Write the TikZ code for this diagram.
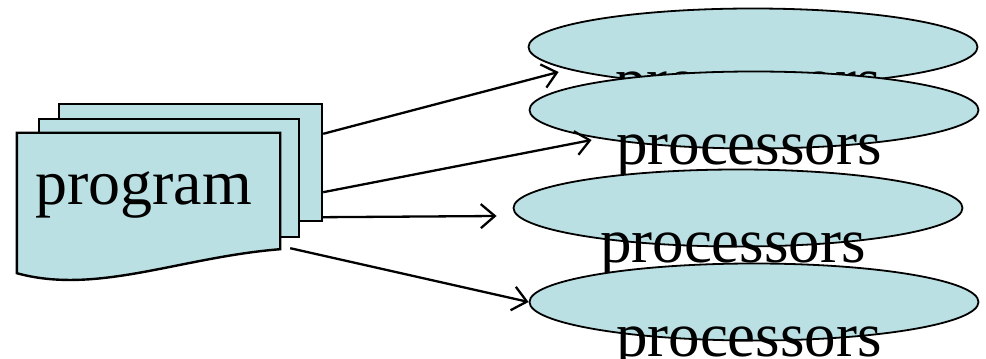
\documentclass[tikz,border=0pt]{standalone}
\usepackage{fontspec}
\setmainfont{Liberation Serif}
\usetikzlibrary{shapes.geometric, arrows.meta}
\definecolor{sheetblue}{RGB}{187,224,227}

\begin{document}
\begin{tikzpicture}[x=1pt, y=1pt,
		sheet/.style={draw, rectangle, fill=sheetblue, line width=2.4pt, inner sep=0pt},
		proc/.style={draw, ellipse, fill=sheetblue, line width=1.8pt, inner sep=0pt, minimum width=449pt, minimum height=77pt,
			label={[anchor=base, xshift=-5pt, yshift=-46pt, font=\fontsize{63}{70}\selectfont]center:processors}},
		arr/.style={->, line width=2.3pt, >={Straight Barb[length=14pt, width=24pt]}}]
	\useasboundingbox (0,0) rectangle (986,359);
	% three pages of the program, back to front
	\node[sheet, minimum width=263pt, minimum height=117pt] (back) at (190.5, 196.5) {};
	\node[sheet, minimum width=260pt, minimum height=118pt] (mid) at (169, 181) {};
	\node[minimum width=263pt, minimum height=116pt, inner sep=0pt] (front) at (148.5, 168) {};
	\draw[fill=sheetblue, line width=2.4pt] (front.south east) -- (front.north east) -- (front.north west) -- ([yshift=-24pt]front.south west)
		.. controls +(80,-22) and +(-100,-8) .. (front.south east) -- cycle;
	\node[anchor=base, font=\fontsize{64}{70}\selectfont] (prog) at (143.5, 154) {program};
	% the processors, each overlapping the one above it
	\node[proc] (p1) at (753, 312) {};
	\node[proc] (p2) at (754, 249) {};
	\node[proc] (p3) at (738, 151) {};
	\node[proc] (p4) at (754, 57) {};
	\draw[arr] ([yshift=-31pt]back.north east) -- ([shift={(31,-25)}]p1.west);
	\draw[arr] ([yshift=30pt]back.south east) -- ([shift={(63,-30)}]p2.west);
	\draw[arr] ([yshift=5pt]back.south east) -- ([shift={(-16,-8)}]p3.west);
	\draw[arr] ([shift={(10,1)}]front.south east) -- (p4.west);
\end{tikzpicture}
\end{document}
